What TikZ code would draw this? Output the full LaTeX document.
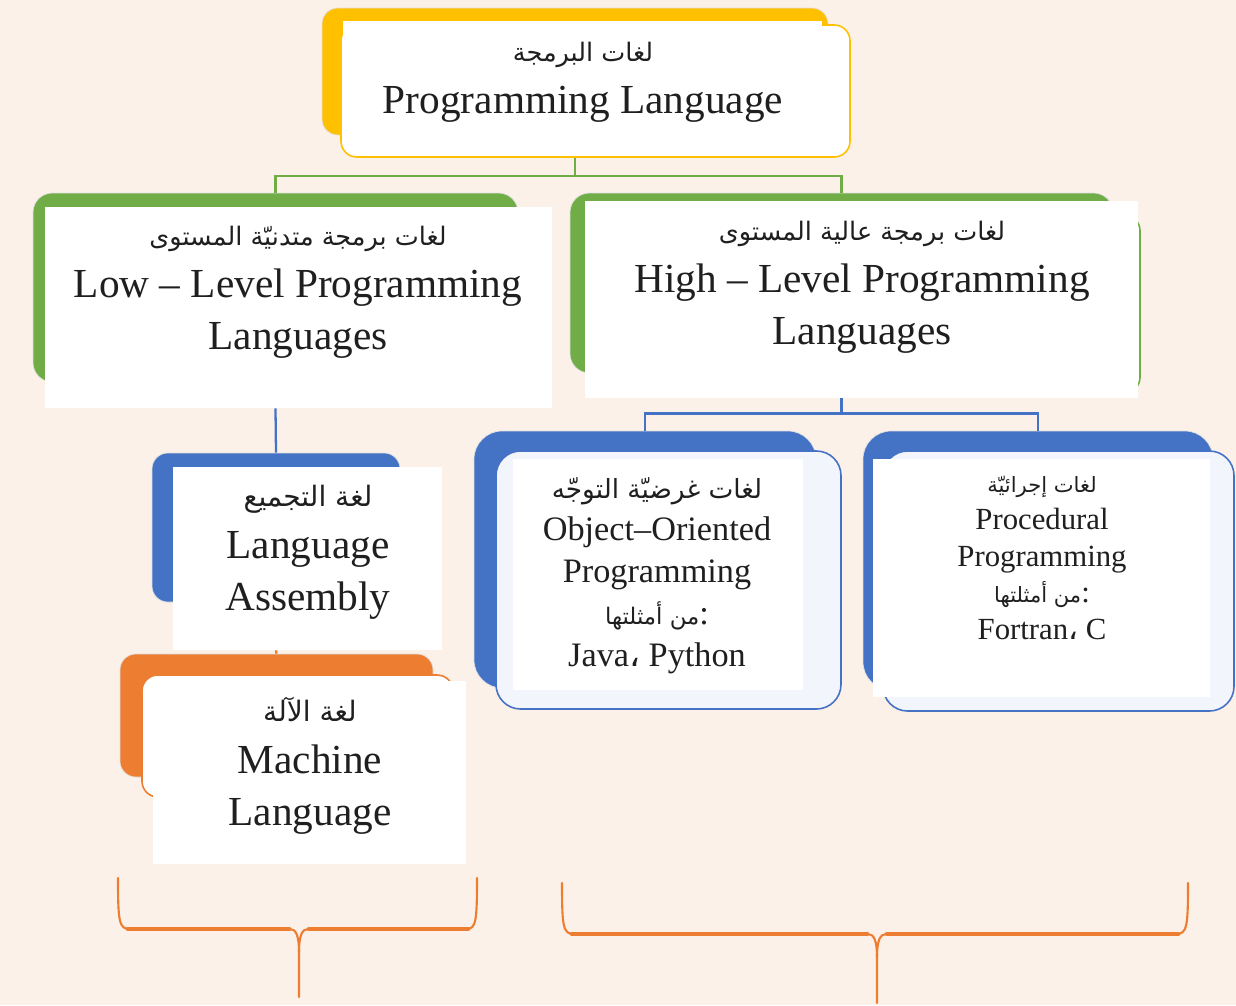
\documentclass[tikz,border=0pt]{standalone}
\usepackage{fontspec}
\setmainfont{Liberation Serif}
\newfontfamily\arabicfont[Script=Arabic]{DejaVu Sans}
\TeXXeTstate=1
\usetikzlibrary{positioning,fit,calc}
\definecolor{pagecol}{RGB}{252,241,233}
\definecolor{goldcol}{RGB}{255,192,0}
\definecolor{leafcol}{RGB}{112,173,71}
\definecolor{seacol}{RGB}{68,114,196}
\definecolor{rustcol}{RGB}{237,125,49}
\newcommand{\artxt}[2][16]{{\arabicfont\fontsize{#1}{20}\selectfont\beginR #2\endR}}

\begin{document}
\begin{tikzpicture}[x=0.02cm, y=-0.02cm,
  back/.style={draw=black!12, fill=#1, rounded corners=9pt, inner sep=0pt},
  front/.style={draw=#1, line width=0.9pt, fill=white, rounded corners=9pt, inner sep=0pt},
  paper/.style={fill=white, inner sep=0pt},
  txt/.style={align=center, text=black!88, font=\fontsize{23.5}{29.5}\selectfont},
  conn/.style={draw=#1, line width=1.3pt},
  brace/.style={draw=rustcol, line width=#1, line cap=round}
]
\fill[pagecol] (0,0) rectangle (1236,1005);
\useasboundingbox (0,0) rectangle (1236,1005);

% root
\node[back=goldcol, fit={(322,8) (828,135)}] (topback) {};
\node[front=goldcol, fit={(341,25) (850,157)}] (topfront) {};
\node[paper, fit={(343,21) (822,143)}] (topbox) {};
\node[txt] (toptxt) at (583,82) {\artxt[14.5]{لغات البرمجة}\\Programming Language};

% low level
\node[back=leafcol, rounded corners=11pt, fit={(33,193) (518,382)}] (lowback) {};
\node[paper, fit={(45,207) (552,408)}] (lowbox) {};
\node[txt] (lowtxt) at (298,292) {\artxt[14.5]{لغات برمجة متدنيّة المستوى}\\Low – Level Programming\\Languages};

% high level
\node[back=leafcol, rounded corners=11pt, fit={(570,193) (1113,373)}] (highback) {};
\node[front=leafcol, fit={(592,215) (1140,393)}] (highfront) {};
\node[paper, fit={(585,201) (1138,398)}] (highbox) {};
\node[txt] (hightxt) at (862,287) {\artxt[14.5]{لغات برمجة عالية المستوى}\\High – Level Programming\\Languages};

% assembly
\node[back=seacol, fit={(152,453) (400,602)}] (asmback) {};
\node[paper, fit={(173,467) (442,650)}] (asmbox) {};
\node[txt] (asmtxt) at (308,552) {\artxt{لغة التجميع}\\Language\\Assembly};

% machine
\node[back=rustcol, fit={(120,654) (433,777)}] (macback) {};
\node[front=rustcol, fit={(142,675) (453,797)}] (macfront) {};
\node[paper, fit={(153,681) (466,864)}] (macbox) {};
\node[txt] (mactxt) at (310,766) {\artxt{لغة الآلة}\\Machine\\Language};

% object oriented
\node[back=seacol, rounded corners=16pt, fit={(474,431) (816,688)}] (oopback) {};
\node[front=seacol, fill=seacol!7, rounded corners=14pt, fit={(496,451) (841,709)}] (oopfront) {};
\node[paper, fit={(513,459) (803,690)}] (oopbox) {};
\node[txt, font=\fontsize{19.5}{24}\selectfont] (ooptxt) at (657,576)
  {\artxt[15]{لغات غرضيّة التوجّه}\\Object–Oriented\\Programming\\\artxt[13]{من أمثلتها}:\\Java{\arabicfont ،} Python};

% procedural
\node[back=seacol, rounded corners=16pt, fit={(863,431) (1213,690)}] (procback) {};
\node[front=seacol, fill=seacol!7, rounded corners=14pt, fit={(883,451) (1234,711)}] (procfront) {};
\node[paper, fit={(873,459) (1210,697)}] (procbox) {};
\node[txt, font=\fontsize{17.5}{21}\selectfont] (proctxt) at (1042,558)
  {\artxt[12]{لغات إجرائيّة}\\Procedural\\Programming\\\artxt[12]{من أمثلتها}:\\Fortran{\arabicfont ،} C};

% tree lines
\draw[conn=leafcol] (topback.south |- topfront.south) -- ++(0,18) -| (lowback.north);
\draw[conn=leafcol] (topback.south |- topfront.south) -- ++(0,18) -| (highback.north);
\draw[conn=seacol] (highback.south |- highbox.south) -- ++(0,15) -| (oopback.north);
\draw[conn=seacol] (highback.south |- highbox.south) -- ++(0,15) -| (procback.north);
\draw[conn=seacol] (lowback.south |- lowbox.south) -- (asmback.north);
\draw[conn=rustcol] (asmback.south |- asmbox.south) -- (macback.north);

% braces
\draw[brace=1.2pt] (118,878) .. controls (118,922) and (119,929) .. (130,929) -- (290,929)
  .. controls (296,929) and (299,936) .. (299,952) -- (299,997);
\draw[brace=1.2pt] (477,878) .. controls (477,922) and (476,929) .. (466,929) -- (308,929)
  .. controls (302,929) and (299,936) .. (299,952);
\draw[brace=2.6pt] (128,929) -- (289,929) (309,929) -- (468,929);
\draw[brace=1.2pt] (562,883) .. controls (562,927) and (563,934) .. (574,934) -- (868,934)
  .. controls (874,934) and (877,941) .. (877,957) -- (877,1003);
\draw[brace=1.2pt] (1188,883) .. controls (1188,927) and (1187,934) .. (1176,934) -- (886,934)
  .. controls (880,934) and (877,941) .. (877,957);
\draw[brace=2.6pt] (572,934) -- (867,934) (887,934) -- (1178,934);
\end{tikzpicture}
\end{document}
